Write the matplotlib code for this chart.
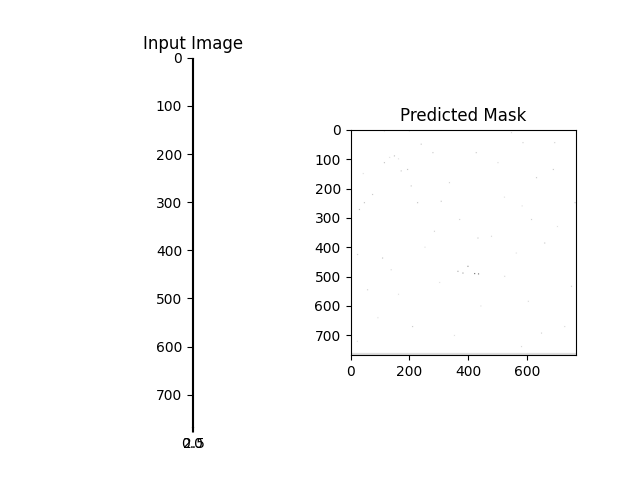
import numpy as np
import matplotlib
matplotlib.use("Agg")
import matplotlib.pyplot as plt

# Input image: a degenerate 768 x 3 image (all black)
input_height = 768
input_width = 3
input_value = 0.0

# Predicted mask: 768 x 768, mostly white with sparse darker specks
mask_size = 768
mask_background = 1.0
speck_rows = [490, 491, 465, 482, 488, 113, 90, 136, 141, 50, 79, 79, 45, 45,
              192, 249, 244, 249, 272, 221, 181, 306, 369, 346, 437, 670, 306,
              386, 164, 136, 249, 533, 545, 425, 692, 738, 499, 5, 5, 3, 11,
              113, 363, 584, 670, 477, 95, 100, 150, 230, 260, 400, 520, 600,
              640, 700, 720, 330, 420, 560]
speck_cols = [419, 432, 396, 362, 379, 112, 146, 191, 169, 237, 277, 424, 583,
              691, 203, 225, 305, 44, 27, 72, 333, 368, 430, 282, 106, 208, 612,
              657, 629, 686, 760, 748, 55, 21, 646, 578, 521, 197, 112, 305, 544,
              498, 476, 601, 725, 135, 130, 160, 40, 520, 580, 250, 300, 440,
              90, 350, 20, 700, 560, 160]
speck_vals = [0.05, 0.1, 0.3, 0.45, 0.4, 0.6, 0.6, 0.6, 0.65, 0.65, 0.65, 0.65,
              0.7, 0.7, 0.65, 0.6, 0.65, 0.6, 0.55, 0.65, 0.7, 0.7, 0.65, 0.7,
              0.6, 0.65, 0.7, 0.65, 0.65, 0.65, 0.65, 0.7, 0.7, 0.7, 0.7, 0.75,
              0.75, 0.75, 0.75, 0.75, 0.75, 0.75, 0.75, 0.75, 0.75, 0.75, 0.8,
              0.8, 0.8, 0.8, 0.8, 0.8, 0.8, 0.8, 0.8, 0.8, 0.8, 0.8, 0.8, 0.8]
speck_size = 3
bottom_band_rows = (761, 768)
bottom_band_value = 0.86

input_img = np.full((input_height, input_width), input_value)

mask = np.full((mask_size, mask_size), mask_background)
for r, c, v in zip(speck_rows, speck_cols, speck_vals):
    mask[r:r + speck_size, c:c + speck_size] = v
mask[bottom_band_rows[0]:bottom_band_rows[1], :] = bottom_band_value

fig = plt.figure(figsize=(6.4, 4.8), dpi=100)
ax1 = fig.add_subplot(1, 2, 1)
ax1.imshow(input_img, cmap="gray")
ax1.set_title("Input Image")

ax2 = fig.add_subplot(1, 2, 2)
ax2.imshow(mask, cmap="gray", vmin=0, vmax=1)
ax2.set_title("Predicted Mask")

fig.savefig("out.png", dpi=100)
